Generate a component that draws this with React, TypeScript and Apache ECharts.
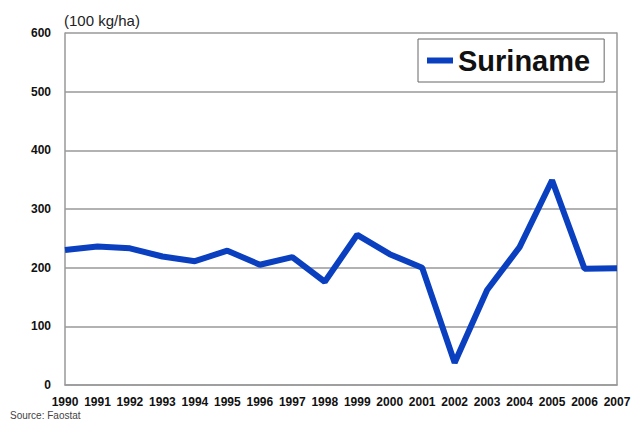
import React, { useEffect, useRef } from "react";
import * as echarts from "echarts";

const years = ["1990","1991","1992","1993","1994","1995","1996","1997","1998","1999","2000","2001","2002","2003","2004","2005","2006","2007"];
const suriname = [230, 236, 233, 219, 211, 229, 205, 218, 176, 256, 223, 200, 38, 162, 235, 349, 198, 199];
const yTicks = { min: 0, max: 600, interval: 100 };

export default function App() {
  const ref = useRef<HTMLDivElement>(null);
  useEffect(() => {
    if (!ref.current) return;
    const chart = echarts.init(ref.current, null, { renderer: "svg" });
    const font = "Liberation Sans, Arial, sans-serif";
    chart.setOption({
      animation: false,
      backgroundColor: "#ffffff",
      grid: { left: 65, right: 25, top: 33, bottom: 38, containLabel: false },
      title: [
        { text: "(100 kg/ha)", left: 64, top: 13, padding: 0, textStyle: { fontFamily: font, fontSize: 15, fontWeight: "normal", color: "#222" } },
        { text: "Source: Faostat", left: 10, top: 410, padding: 0, textStyle: { fontFamily: font, fontSize: 10, fontWeight: "normal", color: "#444" } },
      ],
      legend: {
        left: 418, top: 39,
        padding: [7, 14, 7, 9],
        borderColor: "#666", borderWidth: 1,
        itemWidth: 26, itemHeight: 6, itemGap: 5,
        icon: "rect",
        textStyle: { fontFamily: font, fontSize: 29, fontWeight: "bold", color: "#111" },
        data: ["Suriname"],
      },
      xAxis: {
        type: "category",
        data: years,
        boundaryGap: false,
        axisLine: { lineStyle: { color: "#999", width: 1.5 } },
        axisTick: { show: false },
        axisLabel: { interval: 0, hideOverlap: false, margin: 11, fontFamily: font, fontSize: 12, fontWeight: "bold", color: "#111" },
        splitLine: { show: false },
      },
      yAxis: [
        {
          type: "value", ...yTicks,
          axisLine: { show: true, lineStyle: { color: "#999", width: 1.5 } },
          axisTick: { show: false },
          axisLabel: { margin: 14, fontFamily: font, fontSize: 12, fontWeight: "bold", color: "#111" },
          splitLine: { lineStyle: { color: "#999", width: 1.5 } },
        },
        {
          type: "value", ...yTicks, position: "right",
          axisLine: { show: true, lineStyle: { color: "#999", width: 1.5 } },
          axisTick: { show: false }, axisLabel: { show: false }, splitLine: { show: false },
        },
      ],
      series: [
        {
          name: "Suriname", type: "line", data: suriname,
          symbol: "none",
          lineStyle: { color: "#0a3fc0", width: 6 },
          itemStyle: { color: "#0a3fc0" },
        },
      ],
    });
    return () => chart.dispose();
  }, []);
  return <div ref={ref} style={{ width: 642, height: 423, position: "absolute", left: 0, top: 0 }} />;
}
